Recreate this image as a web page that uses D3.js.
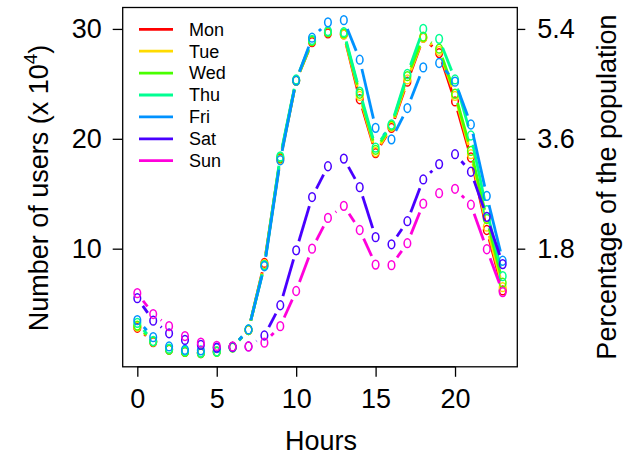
<!DOCTYPE html>
<html>
<head>
<meta charset="utf-8">
<script src="https://cdn.jsdelivr.net/npm/d3@7"></script>
<style>
  html, body { margin: 0; padding: 0; background: #fff; }
  svg { display: block; font-family: "Liberation Sans", Arial, Helvetica, sans-serif; }
</style>
</head>
<body>
<svg id="chart" width="624" height="456"></svg>
<script>
// ---- data ----
const hours = d3.range(0, 24);
const days = ["Mon", "Tue", "Wed", "Thu", "Fri", "Sat", "Sun"];
const colors = ["#FF0000", "#FFDB00", "#49FF00", "#00FF92", "#0092FF", "#4900FF", "#FF00DB"];
const mon = [2.8, 1.5, 0.8, 0.6, 0.5, 0.65, 1.05, 2.6, 8.7, 18.2, 25.3, 28.8, 29.6, 29.5, 23.6, 18.7, 21.0, 25.2, 29.2, 27.8, 23.4, 18.3, 11.7, 6.2];
const tue = [2.9, 1.55, 0.85, 0.65, 0.55, 0.65, 1.05, 2.6, 8.6, 18.1, 25.3, 28.9, 29.7, 29.5, 23.9, 18.8, 21.1, 25.4, 29.2, 28.0, 23.9, 18.6, 12.0, 6.5];
const wed = [3.0, 1.55, 0.8, 0.6, 0.5, 0.6, 1.0, 2.6, 8.5, 18.3, 25.3, 28.9, 29.7, 29.6, 24.1, 19.0, 21.2, 25.7, 29.3, 28.2, 24.1, 18.9, 12.7, 6.9];
const thu = [3.25, 1.6, 0.9, 0.7, 0.55, 0.65, 1.05, 2.65, 8.5, 18.4, 25.4, 29.0, 29.8, 29.7, 24.3, 19.2, 21.3, 25.9, 30.0, 29.1, 25.4, 20.3, 13.5, 7.5];
const fri = [3.5, 1.95, 1.1, 0.8, 0.75, 0.95, 1.05, 2.65, 8.4, 18.05, 25.3, 29.2, 30.6, 30.8, 27.2, 21.0, 19.95, 22.8, 26.5, 26.9, 25.2, 21.3, 14.8, 8.9];
const sat = [5.5, 3.45, 2.3, 1.7, 1.25, 1.0, 1.05, 1.1, 2.1, 4.85, 9.85, 14.7, 17.5, 18.2, 15.6, 11.05, 10.4, 12.5, 16.3, 17.7, 18.6, 17.0, 12.9, 8.6];
const sun = [5.95, 4.05, 2.95, 2.05, 1.45, 1.15, 1.1, 1.1, 1.45, 2.95, 6.15, 10.0, 12.8, 13.9, 11.7, 8.55, 8.5, 10.5, 14.1, 15.05, 15.45, 14.0, 9.95, 6.05];
const seriesValues = [mon, tue, wed, thu, fri, sat, sun];
const xTicks = [0, 5, 10, 15, 20];
const yTicks = [10, 20, 30];
const rightTickLabels = ["1.8", "3.6", "5.4"];

// ---- layout ----
const box = { left: 122.7, right: 517.3, top: 7.5, bottom: 366.8 };
const svg = d3.select("#chart");
const FONT = 27;

const x = d3.scaleLinear().domain([-0.92, 23.92]).range([box.left, box.right]);
const y = d3.scaleLinear().domain([-0.75, 31.95]).range([box.bottom, box.top]);

// plot box
svg.append("rect")
  .attr("x", box.left).attr("y", box.top)
  .attr("width", box.right - box.left).attr("height", box.bottom - box.top)
  .attr("fill", "none").attr("stroke", "#000").attr("stroke-width", 1.3);

// axes
function styleAxis(g) {
  g.select(".domain").remove();
  g.selectAll(".tick line").attr("stroke", "#000").attr("stroke-width", 1.3);
  g.selectAll(".tick text").attr("fill", "#000").attr("font-size", FONT)
    .attr("font-family", "Liberation Sans, Arial, sans-serif");
}
svg.append("g").attr("transform", `translate(0,${box.bottom})`)
  .call(d3.axisBottom(x).tickValues(xTicks).tickSize(10).tickPadding(12).tickFormat(d3.format("d")))
  .call(styleAxis);
svg.append("line").attr("x1", x(0)).attr("x2", x(20)).attr("y1", box.bottom).attr("y2", box.bottom)
  .attr("stroke", "#000").attr("stroke-width", 1.3);

svg.append("g").attr("transform", `translate(${box.left},0)`)
  .call(d3.axisLeft(y).tickValues(yTicks).tickSize(10).tickPadding(11).tickFormat(d3.format("d")))
  .call(styleAxis);

svg.append("g").attr("transform", `translate(${box.right},0)`)
  .call(d3.axisRight(y).tickValues(yTicks).tickSize(8).tickPadding(12)
    .tickFormat((d, i) => rightTickLabels[i]))
  .call(styleAxis);

// axis titles
svg.append("text").attr("x", 321).attr("y", 450).attr("text-anchor", "middle")
  .attr("font-size", FONT).text("Hours");

const yl = svg.append("text").attr("transform", "translate(48,188) rotate(-90)")
  .attr("text-anchor", "middle").attr("font-size", FONT);
yl.append("tspan").text("Number of users (x 10");
yl.append("tspan").attr("font-size", 19).attr("dy", -11).text("4");
yl.append("tspan").attr("dy", 11).text(")");

svg.append("text").attr("transform", "translate(616,187) rotate(-90)")
  .attr("text-anchor", "middle").attr("font-size", FONT).text("Percentage of the population");

// series: lines with gaps around points (type = "b"), then points
const GAP = 9.5;
const plot = svg.append("g");
seriesValues.forEach((vals, si) => {
  const pts = vals.map((v, i) => [x(hours[i]), y(v)]);
  const segs = [];
  for (let i = 0; i < pts.length - 1; i++) {
    const [x1, y1] = pts[i], [x2, y2] = pts[i + 1];
    const d = Math.hypot(x2 - x1, y2 - y1);
    if (d > 2 * GAP) {
      const ux = (x2 - x1) / d, uy = (y2 - y1) / d;
      segs.push([x1 + ux * GAP, y1 + uy * GAP, x2 - ux * GAP, y2 - uy * GAP]);
    }
  }
  const g = plot.append("g");
  g.selectAll("line").data(segs).join("line")
    .attr("x1", d => d[0]).attr("y1", d => d[1]).attr("x2", d => d[2]).attr("y2", d => d[3])
    .attr("stroke", colors[si]).attr("stroke-width", 2.8).attr("stroke-linecap", "butt");
  g.selectAll("ellipse").data(vals).join("ellipse")
    .attr("cx", (v, i) => x(hours[i])).attr("cy", v => y(v))
    .attr("rx", 3.3).attr("ry", 4.4)
    .attr("fill", "none").attr("stroke", colors[si]).attr("stroke-width", 1.5);
});

// legend
const legend = svg.append("g");
days.forEach((name, i) => {
  const ly = 29.3 + i * 21.9;
  legend.append("line").attr("x1", 139).attr("x2", 173).attr("y1", ly).attr("y2", ly)
    .attr("stroke", colors[i]).attr("stroke-width", 2.8);
  legend.append("text").attr("x", 189).attr("y", ly).attr("dy", "0.35em")
    .attr("font-size", 18).text(name);
});
</script>
</body>
</html>
